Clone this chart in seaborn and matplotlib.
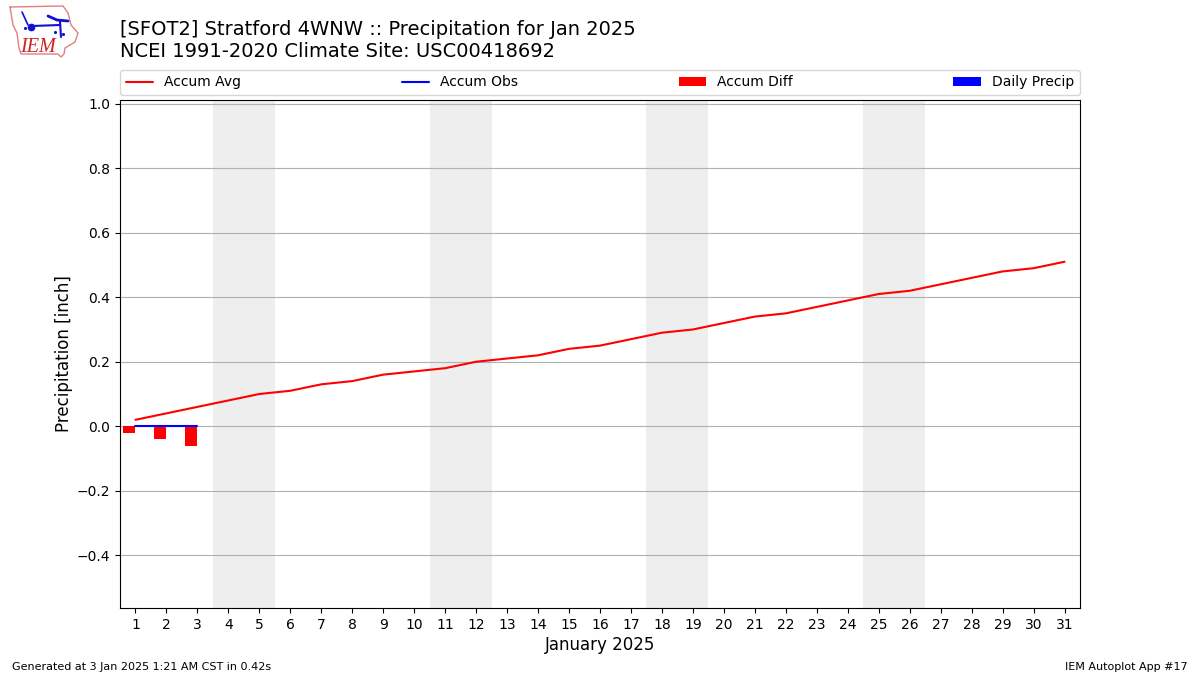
import matplotlib
matplotlib.use('Agg')
import matplotlib.pyplot as plt
from matplotlib.patches import Patch
import pandas as pd
import seaborn as sns

sns.set_style('ticks')
plt.rcParams['font.family'] = ['DejaVu Sans']
plt.rcParams['text.color'] = 'black'
plt.rcParams['axes.labelcolor'] = 'black'
plt.rcParams['xtick.color'] = 'black'
plt.rcParams['ytick.color'] = 'black'

days = list(range(1, 32))
accum_avg = [0.02, 0.04, 0.06, 0.08, 0.10, 0.11, 0.13, 0.14, 0.16, 0.17, 0.18,
             0.20, 0.21, 0.22, 0.24, 0.25, 0.27, 0.29, 0.30, 0.32, 0.34, 0.35,
             0.37, 0.39, 0.41, 0.42, 0.44, 0.46, 0.48, 0.49, 0.51]
obs_days = [1, 2, 3]
accum_obs = [0.0, 0.0, 0.0]
accum_diff = [-0.02, -0.04, -0.06]
daily_precip = [0.0, 0.0, 0.0]
weekend_starts = [4, 11, 18, 25]

# logo outline, traced in pixels
iowa_x = [10, 63, 68, 71, 78, 75, 65, 64, 61, 58, 21, 19, 17, 13, 10]
iowa_y = [7, 6, 13, 25, 33, 42, 48, 54, 57, 54, 54, 48, 33, 25, 7]

avg = pd.DataFrame({'day': days, 'value': accum_avg})
obs = pd.DataFrame({'day': obs_days, 'value': accum_obs})

fig = plt.figure(figsize=(12, 6.75), dpi=100)
ax = fig.add_axes([120 / 1200, 1 - 608 / 675, 960 / 1200, 508 / 675])

for start in weekend_starts:
    ax.axvspan(start - 0.5, start + 1.5, color='#eeeeee', lw=0, zorder=0)
ax.grid(True, axis='y', color='#b0b0b0', lw=0.8, zorder=1)
ax.set_axisbelow(True)

ax.bar(obs_days, accum_diff, width=-0.4, align='edge', color='red', edgecolor='none', zorder=2)
ax.bar(obs_days, daily_precip, width=0.4, color='blue', edgecolor='none', zorder=2)
sns.lineplot(data=avg, x='day', y='value', color='red', lw=1.5, ax=ax, zorder=3)
sns.lineplot(data=obs, x='day', y='value', color='blue', lw=1.5, ax=ax, zorder=3)

ax.set_xlim(0.5, 31.5)
ax.set_ylim(-0.5635, 1.0115)
ax.set_xticks(days)
ax.set_yticks([-0.4, -0.2, 0.0, 0.2, 0.4, 0.6, 0.8, 1.0])
ax.tick_params(labelsize=10, length=3.5, width=0.8, color='black')
ax.set_xlabel('January 2025', fontsize=12, labelpad=3)
ax.set_ylabel('Precipitation [inch]', fontsize=12, labelpad=3)
for s in ax.spines.values():
    s.set_visible(True)
    s.set_color('black')
    s.set_linewidth(0.8)

handles = [plt.Line2D([], [], color='red', lw=1.5),
           plt.Line2D([], [], color='blue', lw=1.5),
           Patch(facecolor='red', edgecolor='none'),
           Patch(facecolor='blue', edgecolor='none')]
ax.legend(handles, ['Accum Avg', 'Accum Obs', 'Accum Diff', 'Daily Precip'],
          ncol=4, mode='expand', loc='lower left', fontsize=10, frameon=True,
          bbox_to_anchor=(0, 1 + 5 / 508, 1, 0.05), borderaxespad=0)

fig.text(120 / 1200, 1 - 61 / 675, '[SFOT2] Stratford 4WNW :: Precipitation for Jan 2025\n'
         'NCEI 1991-2020 Climate Site: USC00418692', fontsize=14, va='bottom', ha='left')
fig.text(12 / 1200, 1 - 670 / 675, 'Generated at 3 Jan 2025 1:21 AM CST in 0.42s', fontsize=8)
fig.text(1188 / 1200, 1 - 670 / 675, 'IEM Autoplot App #17', fontsize=8, ha='right')

# logo
lax = fig.add_axes([0, 1 - 70 / 675, 130 / 1200, 70 / 675])
lax.set_xlim(0, 130)
lax.set_ylim(70, 0)
lax.axis('off')
lax.plot(iowa_x, iowa_y, color='#e08080', lw=1)
lax.plot([22, 28], [12, 25], color='#1010d0', lw=1.2)
lax.plot([32, 60], [26, 25], color='#1010d0', lw=1.5)
lax.plot([60, 61], [21, 37], color='#1010d0', lw=1.5)
lax.plot([31], [27], 'o', color='#1010d0', ms=4.5)
lax.plot([48, 57, 68], [16, 20, 21], color='#1010d0', lw=2)
lax.plot([25, 55, 63], [28, 32, 34], '.', color='#1010d0', ms=2.5)
lax.text(37.5, 52, 'IEM', color='#cc2222', fontsize=14.5, style='italic',
         family='Liberation Serif', ha='center')

fig.savefig('out.png', dpi=100)
